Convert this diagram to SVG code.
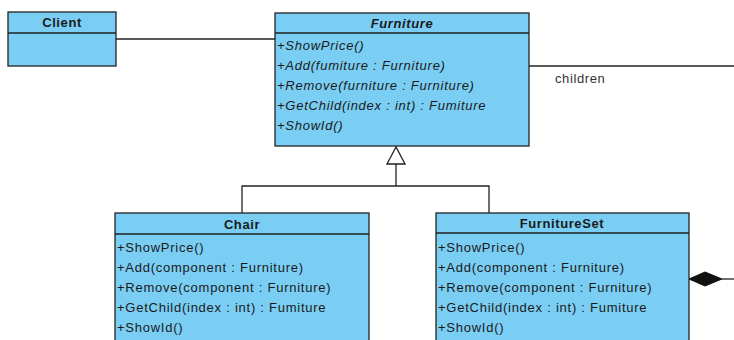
<svg xmlns="http://www.w3.org/2000/svg" width="734" height="340" viewBox="0 0 734 340">
  <style>
    .box { fill: #7acef4; stroke: #222; stroke-width: 1.3; }
    .sep { stroke: #222; stroke-width: 1.3; }
    .title { font-family: "Liberation Sans", Arial, sans-serif; font-size: 13px; font-weight: bold; letter-spacing: 0.6px; fill: #1a1a1a; text-anchor: middle; }
    .op { font-family: "Liberation Sans", Arial, sans-serif; font-size: 13px; letter-spacing: 0.75px; fill: #1a1a1a; }
    .abs { font-style: italic; }
    .conn { fill: none; stroke: #222; stroke-width: 1.3; }
    .lbl { font-family: "Liberation Sans", Arial, sans-serif; font-size: 13px; letter-spacing: 0.6px; fill: #333; }
  </style>
  <rect width="734" height="340" fill="#fff"/>

  <g id="connectors">
    <!-- Client association -->
    <line class="conn" x1="116" y1="39" x2="275" y2="39"/>
    <!-- children composition -->
    <line class="conn" x1="529" y1="66" x2="734" y2="66"/>
    <polyline class="conn" points="722,279 734,279"/>
    <polygon points="689,279 705,272 722,279 705,286" fill="#111" stroke="#111" stroke-width="1"/>
    <text class="lbl" x="555" y="83">children</text>
    <!-- generalization -->
    <polyline class="conn" points="242,213 242,186 489,186 489,213"/>
    <line class="conn" x1="396" y1="164" x2="396" y2="186"/>
    <polygon points="396,147 387,164 405,164" fill="#fff" stroke="#222" stroke-width="1.3"/>
  </g>

  <g id="client">
    <rect class="box" x="8" y="12" width="108" height="54"/>
    <line class="sep" x1="8" y1="33" x2="116" y2="33"/>
    <text class="title" x="62" y="27">Client</text>
  </g>

  <g id="furniture">
    <rect class="box" x="275" y="13" width="254" height="133"/>
    <line class="sep" x1="275" y1="33" x2="529" y2="33"/>
    <text class="title abs" x="402" y="28">Furniture</text>
    <text class="op abs" x="277" y="50">+ShowPrice()</text>
    <text class="op abs" x="277" y="70">+Add(fumiture : Furniture)</text>
    <text class="op abs" x="277" y="90">+Remove(furniture : Furniture)</text>
    <text class="op abs" x="277" y="110">+GetChild(index : int) : Fumiture</text>
    <text class="op abs" x="277" y="130">+ShowId()</text>
  </g>

  <g id="chair">
    <rect class="box" x="115" y="213" width="254" height="140"/>
    <line class="sep" x1="115" y1="234" x2="369" y2="234"/>
    <text class="title" x="242" y="229">Chair</text>
    <text class="op" x="117" y="252">+ShowPrice()</text>
    <text class="op" x="117" y="272">+Add(component : Furniture)</text>
    <text class="op" x="117" y="292">+Remove(component : Furniture)</text>
    <text class="op" x="117" y="312">+GetChild(index : int) : Fumiture</text>
    <text class="op" x="117" y="332">+ShowId()</text>
  </g>

  <g id="furnitureset">
    <rect class="box" x="436" y="213" width="253" height="140"/>
    <line class="sep" x1="436" y1="233" x2="689" y2="233"/>
    <text class="title" x="562" y="228">FurnitureSet</text>
    <text class="op" x="438" y="252">+ShowPrice()</text>
    <text class="op" x="438" y="272">+Add(component : Furniture)</text>
    <text class="op" x="438" y="292">+Remove(component : Furniture)</text>
    <text class="op" x="438" y="312">+GetChild(index : int) : Fumiture</text>
    <text class="op" x="438" y="332">+ShowId()</text>
  </g>
</svg>
